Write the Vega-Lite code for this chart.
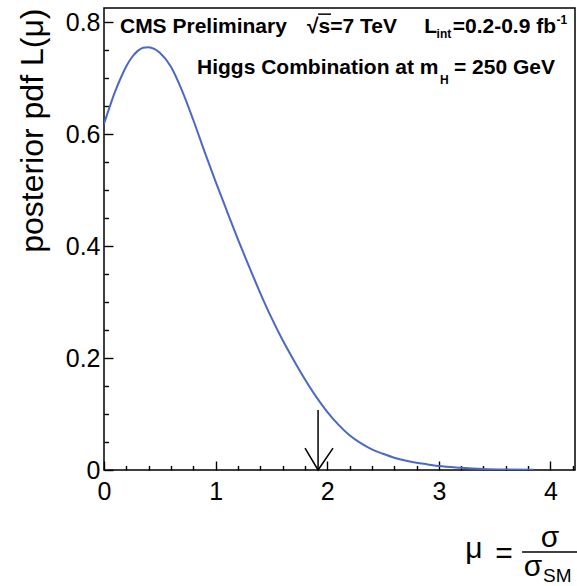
{
  "$schema": "https://vega.github.io/schema/vega-lite/v6.json",
  "width": 471,
  "height": 462,
  "autosize": {"type": "none"},
  "padding": {"left": 104, "top": 8, "right": 2, "bottom": 116},
  "background": "white",
  "config": {
    "view": {"stroke": "black", "strokeWidth": 1.5},
    "font": "Liberation Sans"
  },
  "resolve": {"axis": {"x": "independent", "y": "independent"}},
  "datasets": {
    "curve": [
      {"mu": 0.00, "pdf": 0.618}, {"mu": 0.05, "pdf": 0.648}, {"mu": 0.10, "pdf": 0.676},
      {"mu": 0.15, "pdf": 0.700}, {"mu": 0.20, "pdf": 0.721}, {"mu": 0.25, "pdf": 0.737},
      {"mu": 0.30, "pdf": 0.748}, {"mu": 0.35, "pdf": 0.754}, {"mu": 0.40, "pdf": 0.755},
      {"mu": 0.45, "pdf": 0.752}, {"mu": 0.50, "pdf": 0.745}, {"mu": 0.60, "pdf": 0.720},
      {"mu": 0.70, "pdf": 0.677}, {"mu": 0.80, "pdf": 0.625}, {"mu": 0.90, "pdf": 0.569},
      {"mu": 1.00, "pdf": 0.515}, {"mu": 1.10, "pdf": 0.463}, {"mu": 1.20, "pdf": 0.412},
      {"mu": 1.30, "pdf": 0.363}, {"mu": 1.40, "pdf": 0.316}, {"mu": 1.50, "pdf": 0.272},
      {"mu": 1.60, "pdf": 0.232}, {"mu": 1.70, "pdf": 0.196}, {"mu": 1.80, "pdf": 0.162},
      {"mu": 1.90, "pdf": 0.131}, {"mu": 2.00, "pdf": 0.104}, {"mu": 2.10, "pdf": 0.081},
      {"mu": 2.20, "pdf": 0.062}, {"mu": 2.30, "pdf": 0.048}, {"mu": 2.40, "pdf": 0.037},
      {"mu": 2.50, "pdf": 0.029}, {"mu": 2.60, "pdf": 0.022}, {"mu": 2.70, "pdf": 0.017},
      {"mu": 2.80, "pdf": 0.013}, {"mu": 2.90, "pdf": 0.010}, {"mu": 3.00, "pdf": 0.007},
      {"mu": 3.20, "pdf": 0.004}, {"mu": 3.40, "pdf": 0.002}, {"mu": 3.60, "pdf": 0.001},
      {"mu": 3.85, "pdf": 0.0005}
    ],
    "arrow": [
      {"part": "shaft", "seq": 1, "mu": 1.918, "pdf": 0.107},
      {"part": "shaft", "seq": 2, "mu": 1.918, "pdf": 0.0},
      {"part": "head", "seq": 1, "mu": 1.801, "pdf": 0.039},
      {"part": "head", "seq": 2, "mu": 1.918, "pdf": 0.0},
      {"part": "head", "seq": 3, "mu": 2.052, "pdf": 0.039}
    ],
    "hdrLeft": [
      {"mu": 0.143, "pdf": 0.780, "text": "CMS Preliminary"},
      {"mu": 1.819, "pdf": 0.780, "text": "√s=7 TeV"},
      {"mu": 2.870, "pdf": 0.780, "text": "L"},
      {"mu": 0.833, "pdf": 0.707, "text": "Higgs Combination at m"}
    ],
    "hdrRight": [
      {"mu": 4.050, "pdf": 0.780, "text": "=0.2-0.9 fb"},
      {"mu": 4.041, "pdf": 0.707, "text": "= 250 GeV"}
    ],
    "hdrSmall": [
      {"mu": 2.980, "pdf": 0.771, "text": "int"},
      {"mu": 3.011, "pdf": 0.690, "text": "H"},
      {"mu": 4.054, "pdf": 0.796, "text": "-1"}
    ],
    "overline": [
      {"mu": 1.918, "mu2": 2.034, "pdf": 0.814}
    ],
    "xTitleBig": [
      {"mu": 3.315, "pdf": -0.157, "text": "μ"},
      {"mu": 3.584, "pdf": -0.166, "text": "="},
      {"mu": 3.996, "pdf": -0.1375, "text": "σ"},
      {"mu": 3.844, "pdf": -0.190, "text": "σ"}
    ],
    "xTitleSmall": [
      {"mu": 3.934, "pdf": -0.200, "text": "SM"}
    ],
    "fracBar": [
      {"mu": 3.746, "mu2": 4.239, "pdf": -0.1464}
    ]
  },
  "layer": [
    {
      "data": {"name": "curve"},
      "mark": {"type": "line", "color": "#4b69c2", "strokeWidth": 2, "interpolate": "monotone", "clip": true},
      "encoding": {
        "x": {
          "field": "mu", "type": "quantitative",
          "scale": {"domain": [0, 4.22], "nice": false, "zero": false},
          "axis": {
            "orient": "bottom",
            "title": null,
            "domain": false,
            "grid": false,
            "values": [0, 1, 2, 3, 4],
            "format": "~g",
            "tickSize": -9,
            "tickColor": "black",
            "tickWidth": 1.4,
            "labelPadding": 18,
            "labelFontSize": 25,
            "labelColor": "black",
            "labelFont": "Liberation Sans",
            "labelOverlap": false,
            "labelFlush": false,
            "labelBound": false
          }
        },
        "y": {
          "field": "pdf", "type": "quantitative",
          "scale": {"domain": [0, 0.825], "nice": false, "zero": false},
          "axis": {
            "orient": "left",
            "title": "posterior pdf L(μ)",
            "titleFontSize": 32,
            "titleFontWeight": "normal",
            "titleFont": "Liberation Sans",
            "titleColor": "black",
            "titleAnchor": "end",
            "titlePadding": 16,
            "domain": false,
            "grid": false,
            "values": [0, 0.2, 0.4, 0.6, 0.8],
            "format": "~g",
            "tickSize": -9,
            "tickColor": "black",
            "tickWidth": 1.4,
            "labelPadding": 13,
            "labelFontSize": 25,
            "labelColor": "black",
            "labelFont": "Liberation Sans",
            "labelOverlap": false,
            "labelFlush": false,
            "labelBound": false
          }
        }
      }
    },
    {
      "data": {"name": "arrow"},
      "mark": {"type": "line", "color": "black", "strokeWidth": 1.5},
      "encoding": {
        "x": {
          "field": "mu", "type": "quantitative",
          "axis": {
            "orient": "bottom",
            "title": null,
            "domain": false,
            "grid": false,
            "labels": false,
            "values": [0.2, 0.4, 0.6, 0.8, 1.2, 1.4, 1.6, 1.8, 2.2, 2.4, 2.6, 2.8, 3.2, 3.4, 3.6, 3.8, 4.2],
            "tickSize": -4.5,
            "tickColor": "black",
            "tickWidth": 1.4
          }
        },
        "y": {
          "field": "pdf", "type": "quantitative",
          "axis": {
            "orient": "left",
            "title": null,
            "domain": false,
            "grid": false,
            "labels": false,
            "values": [0.05, 0.1, 0.15, 0.25, 0.3, 0.35, 0.45, 0.5, 0.55, 0.65, 0.7, 0.75],
            "tickSize": -4.5,
            "tickColor": "black",
            "tickWidth": 1.4
          }
        },
        "detail": {"field": "part"},
        "order": {"field": "seq"}
      }
    },
    {
      "data": {"name": "hdrLeft"},
      "mark": {"type": "text", "align": "left", "baseline": "alphabetic", "fontSize": 21, "fontWeight": "bold", "font": "Liberation Sans", "color": "black"},
      "encoding": {
        "x": {"field": "mu", "type": "quantitative", "axis": null},
        "y": {"field": "pdf", "type": "quantitative", "axis": null},
        "text": {"field": "text"}
      }
    },
    {
      "data": {"name": "hdrRight"},
      "mark": {"type": "text", "align": "right", "baseline": "alphabetic", "fontSize": 21, "fontWeight": "bold", "font": "Liberation Sans", "color": "black"},
      "encoding": {
        "x": {"field": "mu", "type": "quantitative", "axis": null},
        "y": {"field": "pdf", "type": "quantitative", "axis": null},
        "text": {"field": "text"}
      }
    },
    {
      "data": {"name": "hdrSmall"},
      "mark": {"type": "text", "align": "left", "baseline": "alphabetic", "fontSize": 12, "fontWeight": "bold", "font": "Liberation Sans", "color": "black"},
      "encoding": {
        "x": {"field": "mu", "type": "quantitative", "axis": null},
        "y": {"field": "pdf", "type": "quantitative", "axis": null},
        "text": {"field": "text"}
      }
    },
    {
      "data": {"name": "overline"},
      "mark": {"type": "rule", "color": "black", "strokeWidth": 1.5},
      "encoding": {
        "x": {"field": "mu", "type": "quantitative", "axis": null},
        "x2": {"field": "mu2"},
        "y": {"field": "pdf", "type": "quantitative", "axis": null}
      }
    },
    {
      "data": {"name": "xTitleBig"},
      "mark": {"type": "text", "align": "center", "baseline": "alphabetic", "fontSize": 30, "font": "Liberation Sans", "color": "black"},
      "encoding": {
        "x": {"field": "mu", "type": "quantitative", "axis": null},
        "y": {"field": "pdf", "type": "quantitative", "axis": null},
        "text": {"field": "text"}
      }
    },
    {
      "data": {"name": "xTitleSmall"},
      "mark": {"type": "text", "align": "left", "baseline": "alphabetic", "fontSize": 19, "font": "Liberation Sans", "color": "black"},
      "encoding": {
        "x": {"field": "mu", "type": "quantitative", "axis": null},
        "y": {"field": "pdf", "type": "quantitative", "axis": null},
        "text": {"field": "text"}
      }
    },
    {
      "data": {"name": "fracBar"},
      "mark": {"type": "rule", "color": "black", "strokeWidth": 1.5},
      "encoding": {
        "x": {"field": "mu", "type": "quantitative", "axis": null},
        "x2": {"field": "mu2"},
        "y": {"field": "pdf", "type": "quantitative", "axis": null}
      }
    }
  ]
}
